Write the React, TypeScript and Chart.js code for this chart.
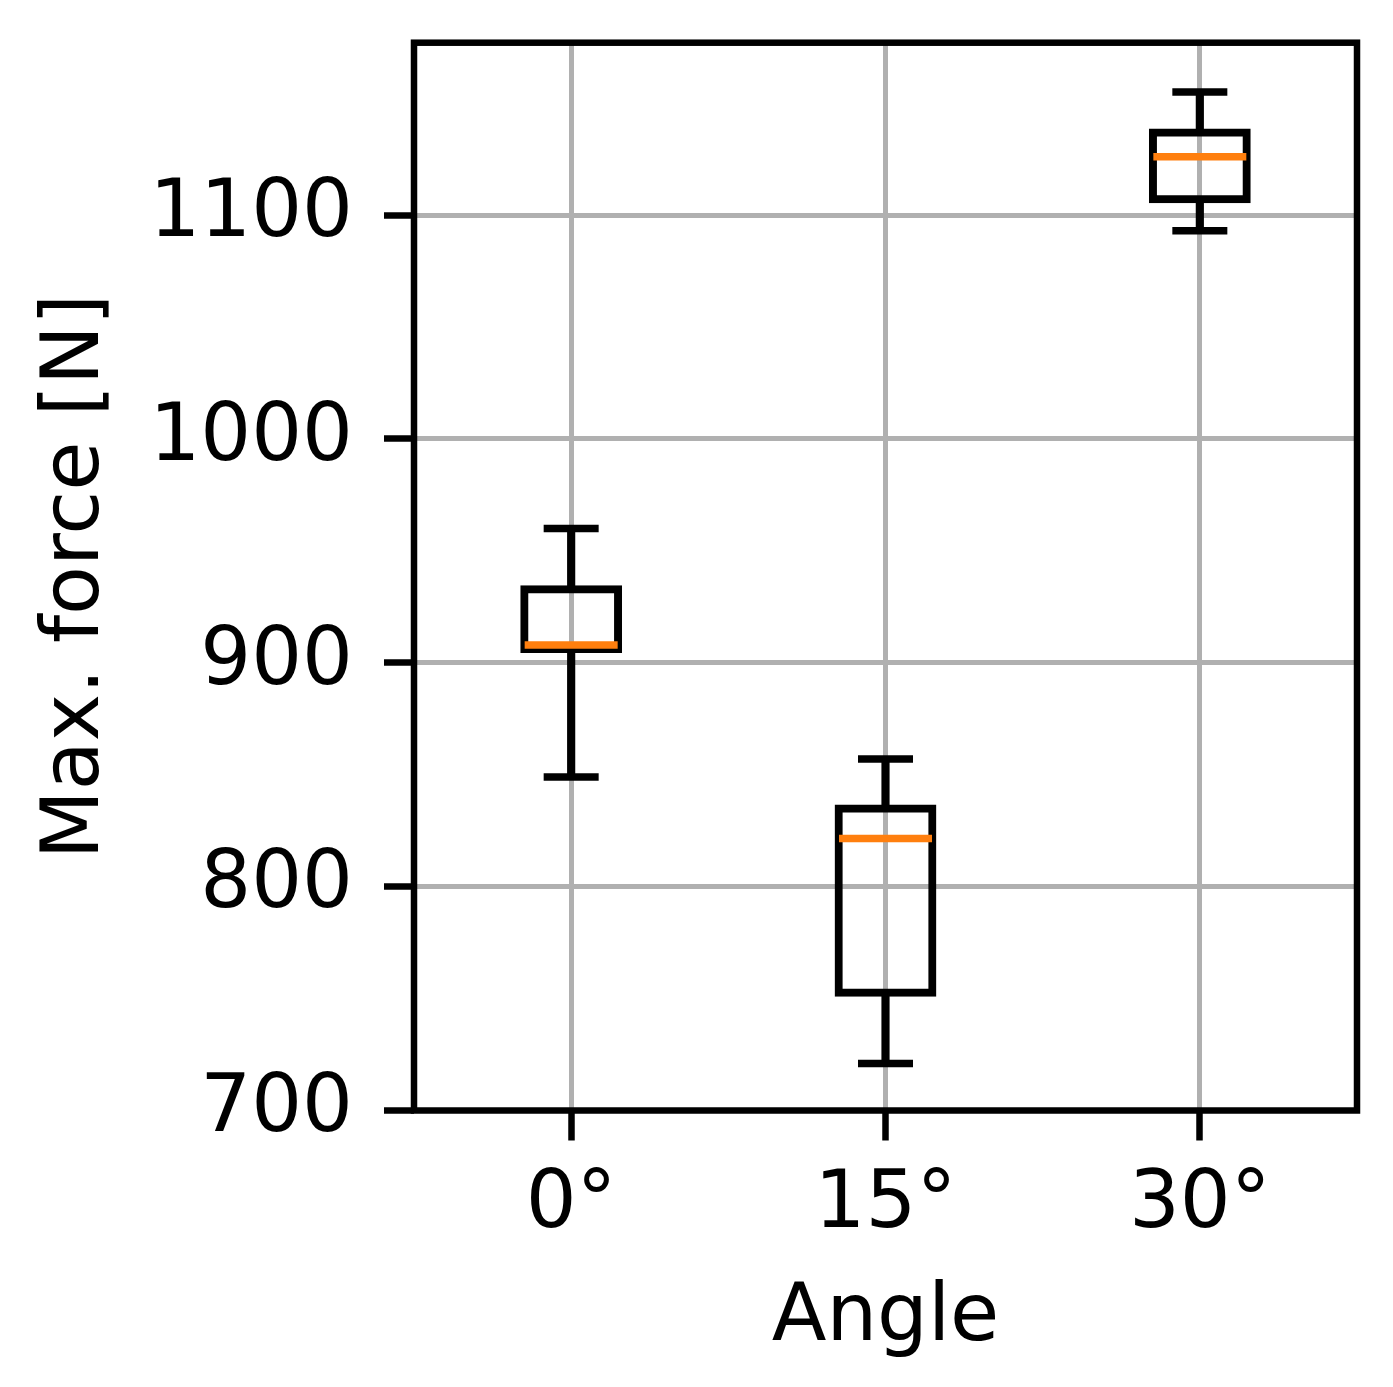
import { useEffect, useRef } from 'react';
import { Chart, registerables } from 'chart.js';

Chart.register(...registerables);
Chart.defaults.font.family = '"DejaVu Sans", sans-serif';

// box plot values (N)
const angles = ['0°', '15°', '30°'];
const whiskerLow = [849, 721, 1093];
const q1 = [906, 752.5, 1107];
const medians = [908, 821.5, 1126];
const q3 = [933, 835, 1137];
const whiskerHigh = [960, 857, 1155];

const yTicks = [700, 800, 900, 1000, 1100];
const yMin = 700;
const yMax = 1177;

const ink = '#000';
const gridGrey = '#b0b0b0';
const orange = '#ff7f0e';

// matplotlib-like frame (all four spines)
const framePlugin = {
  id: 'frame',
  afterDatasetsDraw(chart: any) {
    const { ctx, chartArea: a } = chart;
    ctx.save();
    ctx.strokeStyle = ink;
    ctx.lineWidth = 6.5;
    ctx.lineJoin = 'miter';
    ctx.strokeRect(a.left, a.top, a.right - a.left, a.bottom - a.top);
    ctx.restore();
  }
};

export default function App() {
  const ref = useRef<HTMLCanvasElement | null>(null);

  useEffect(() => {
    document.body.style.margin = '0';
    if (!ref.current) return;

    const chart = new Chart(ref.current, {
      type: 'bar',
      data: {
        labels: angles,
        datasets: [
          {
            type: 'line',
            label: 'median',
            data: medians,
            showLine: false,
            pointStyle: 'line',
            pointRadius: 46.5,
            pointHoverRadius: 46.5,
            pointBorderWidth: 7.5,
            pointBorderColor: orange,
            order: 0
          },
          {
            type: 'line',
            label: 'cap high',
            data: whiskerHigh,
            showLine: false,
            pointStyle: 'line',
            pointRadius: 27.5,
            pointHoverRadius: 27.5,
            pointBorderWidth: 7.5,
            pointBorderColor: ink,
            order: 1
          },
          {
            type: 'line',
            label: 'cap low',
            data: whiskerLow,
            showLine: false,
            pointStyle: 'line',
            pointRadius: 27.5,
            pointHoverRadius: 27.5,
            pointBorderWidth: 7.5,
            pointBorderColor: ink,
            order: 1
          },
          {
            type: 'bar',
            label: 'box',
            data: q1.map((v, i) => [v, q3[i]]),
            backgroundColor: 'rgba(0,0,0,0)',
            borderColor: ink,
            borderWidth: 0.5,
            inflateAmount: 3.75,
            borderSkipped: false,
            barPercentage: 0.3,
            categoryPercentage: 1,
            grouped: false,
            order: 2
          },
          {
            type: 'bar',
            label: 'upper whisker',
            data: q3.map((v, i) => [v, whiskerHigh[i]]),
            backgroundColor: ink,
            borderWidth: 0,
            barThickness: 7.5,
            grouped: false,
            order: 3
          },
          {
            type: 'bar',
            label: 'lower whisker',
            data: whiskerLow.map((v, i) => [v, q1[i]]),
            backgroundColor: ink,
            borderWidth: 0,
            barThickness: 7.5,
            grouped: false,
            order: 3
          }
        ] as any
      },
      options: {
        animation: false,
        responsive: true,
        maintainAspectRatio: false,
        layout: { autoPadding: false, padding: { left: 0, top: 42.7, right: 36, bottom: 0 } },
        plugins: {
          legend: { display: false },
          tooltip: { enabled: false }
        },
        scales: {
          x: {
            offset: true,
            grid: {
              offset: false,
              color: gridGrey,
              lineWidth: 5,
              tickColor: ink,
              tickWidth: 6.5,
              tickLength: 30
            },
            border: { display: false },
            ticks: { color: ink, font: { size: 80 }, padding: 18, maxRotation: 0 },
            title: {
              display: true,
              text: 'Angle',
              color: ink,
              font: { size: 80 },
              padding: { top: 0, bottom: 20 }
            },
            afterFit: (s: any) => {
              s.height = 276.5;
              s.paddingLeft = 0;
              s.paddingRight = 0;
            }
          },
          y: {
            min: yMin,
            max: yMax,
            afterBuildTicks: (s: any) => {
              s.ticks = yTicks.map((v) => ({ value: v }));
            },
            grid: {
              color: gridGrey,
              lineWidth: 5,
              tickColor: ink,
              tickWidth: 6.5,
              tickLength: 30
            },
            border: { display: false },
            ticks: {
              color: ink,
              font: { size: 80 },
              padding: 31,
              callback: (v: any) => String(v)
            },
            title: {
              display: true,
              text: 'Max. force [N]',
              color: ink,
              font: { size: 80 },
              padding: { top: 29, bottom: 0 }
            },
            afterFit: (s: any) => {
              s.width = 414;
              s.paddingTop = 0;
              s.paddingBottom = 0;
            }
          }
        }
      } as any,
      plugins: [framePlugin]
    });

    return () => chart.destroy();
  }, []);

  return (
    <div style={{ position: 'relative', width: 1393, height: 1387 }}>
      <canvas ref={ref} aria-label="Max. force by angle box plot" />
    </div>
  );
}
